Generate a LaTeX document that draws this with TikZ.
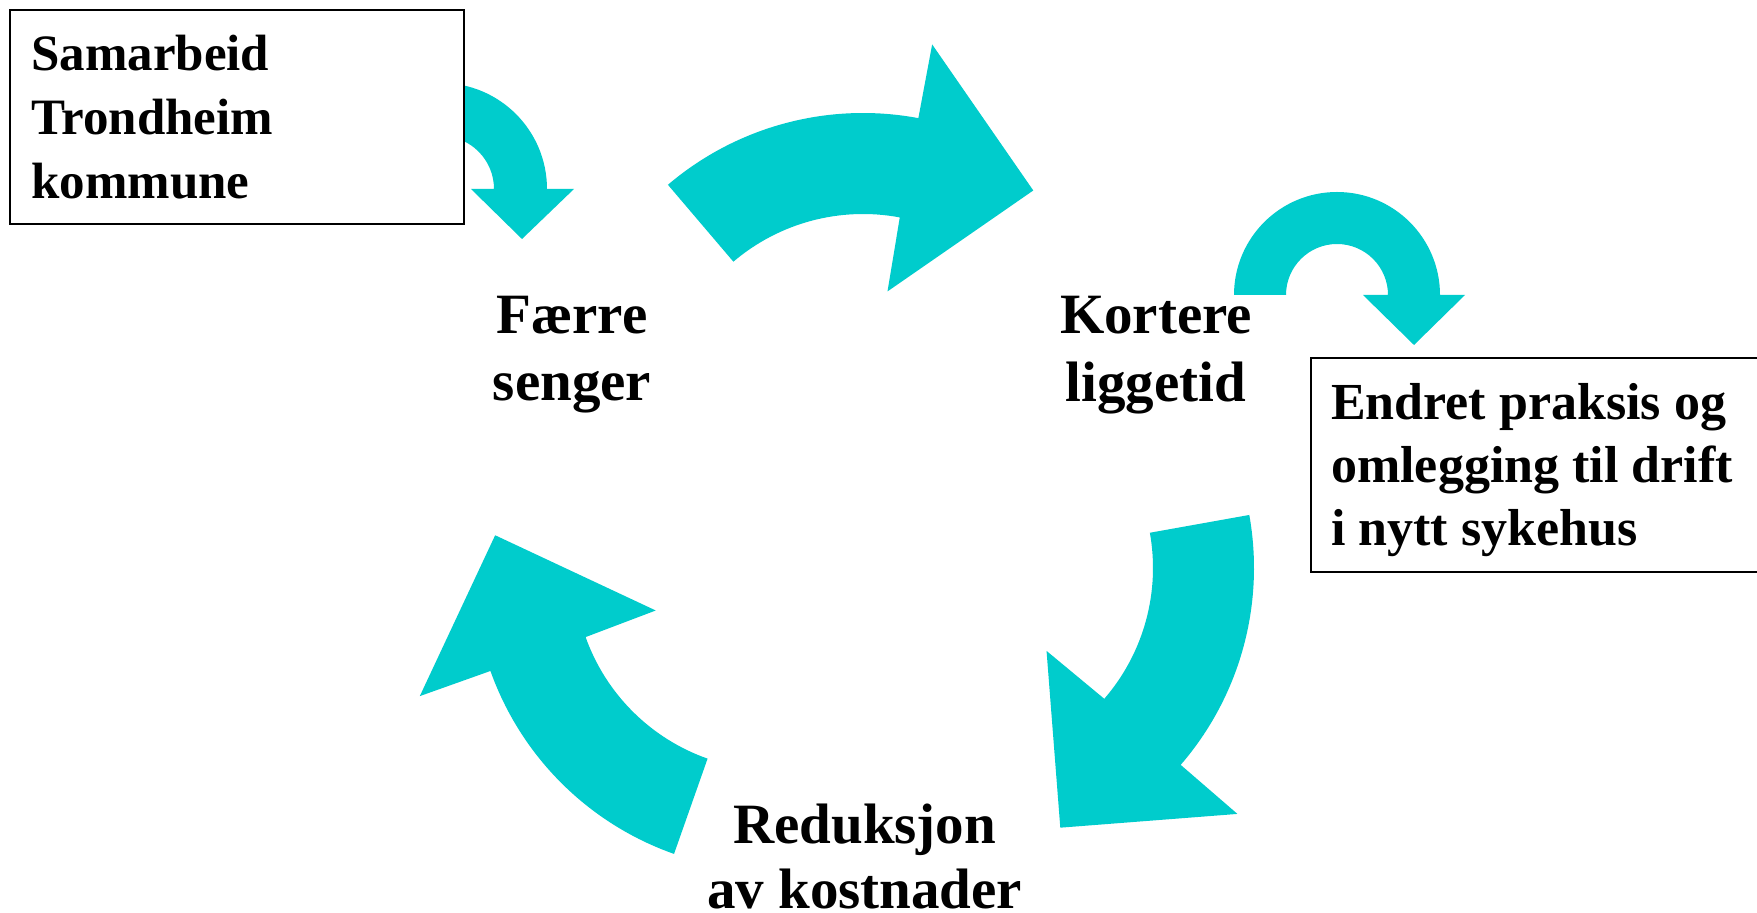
\documentclass[tikz,border=0pt]{standalone}
\usepackage{fontspec}
\setmainfont{Liberation Serif}
\definecolor{teal1}{RGB}{0,204,204}
\newcommand\cyclearrow[3]{%
  \begin{scope}[shift={(#1,#2)}]
    \fill[teal1] (#3:301) arc[start angle=#3, end angle=#3-51, radius=301]
      -- ({#3-51}:376) -- ({#3-77.7}:281) -- ({#3-51.7}:125) -- ({#3-51}:200)
      arc[start angle=#3-51, end angle=#3, radius=200] -- cycle;
  \end{scope}}
\tikzset{
  boxframe/.style={draw=black, line width=2pt, fill=white},
  lbl/.style={inner sep=0pt, anchor=base, font=\bfseries\fontsize{57}{67}\selectfont},
  boxtxt/.style={inner sep=0pt, anchor=base west, font=\bfseries\fontsize{52}{62}\selectfont},
  boxtxtn/.style={inner sep=0pt, anchor=base west, font=\bfseries\fontsize{51}{64}\selectfont},
}
\begin{document}
\begin{tikzpicture}[x=1pt,y=1pt]
\useasboundingbox (0,0) rectangle (1757,913);
\clip (0,0) rectangle (1757,913);
\fill[white] (0,0) rectangle (1757,913);
% big cycle arrows
\cyclearrow{863}{499}{130.4}
\cyclearrow{953}{345}{10.15}
\cyclearrow{774}{343}{250.6}
% small U-turn arrow, left (partly under box)
\fill[teal1] (335,724) arc[start angle=180, end angle=0, radius=106]
  -- (574,724) -- (522,674) -- (471,724) -- (494,724)
  arc[start angle=0, end angle=180, radius=53] -- cycle;
% small U-turn arrow, right
\fill[teal1] (1234,618) arc[start angle=180, end angle=0, radius=103]
  -- (1465,618) -- (1414,568) -- (1363,618) -- (1388,618)
  arc[start angle=0, end angle=180, radius=51] -- cycle;
% boxes
\node[boxframe, minimum width=454pt, minimum height=214pt, inner sep=0pt, anchor=south west] (lbox) at (9,688) {};
\node[boxtxtn] (l1) at (31,842) {Samarbeid};
\node[boxtxtn] (l2) at (31,778.5) {Trondheim};
\node[boxtxtn] (l3) at (31,714.7) {kommune};
\node[boxframe, minimum width=500pt, minimum height=214pt, inner sep=0pt, anchor=south west] (rbox) at (1310,340.4) {};
\node[boxtxt] (r1) at (1331,493) {Endret praksis og};
\node[boxtxt] (r2) at (1331,430.5) {omlegging til drift};
\node[boxtxt] (r3) at (1331,367) {i nytt sykehus};
% cycle labels
\node[lbl] (f1) at (572,579.7) {Færre};
\node[lbl] (f2) at (572,512.3) {senger};
\node[lbl] (k1) at (1156,579.7) {Kortere};
\node[lbl] (k2) at (1156,511.3) {liggetid};
\node[lbl] (d1) at (864.7,69.7) {Reduksjon};
\node[lbl] (d2) at (864.7,4.7) {av kostnader};
\end{tikzpicture}
\end{document}
